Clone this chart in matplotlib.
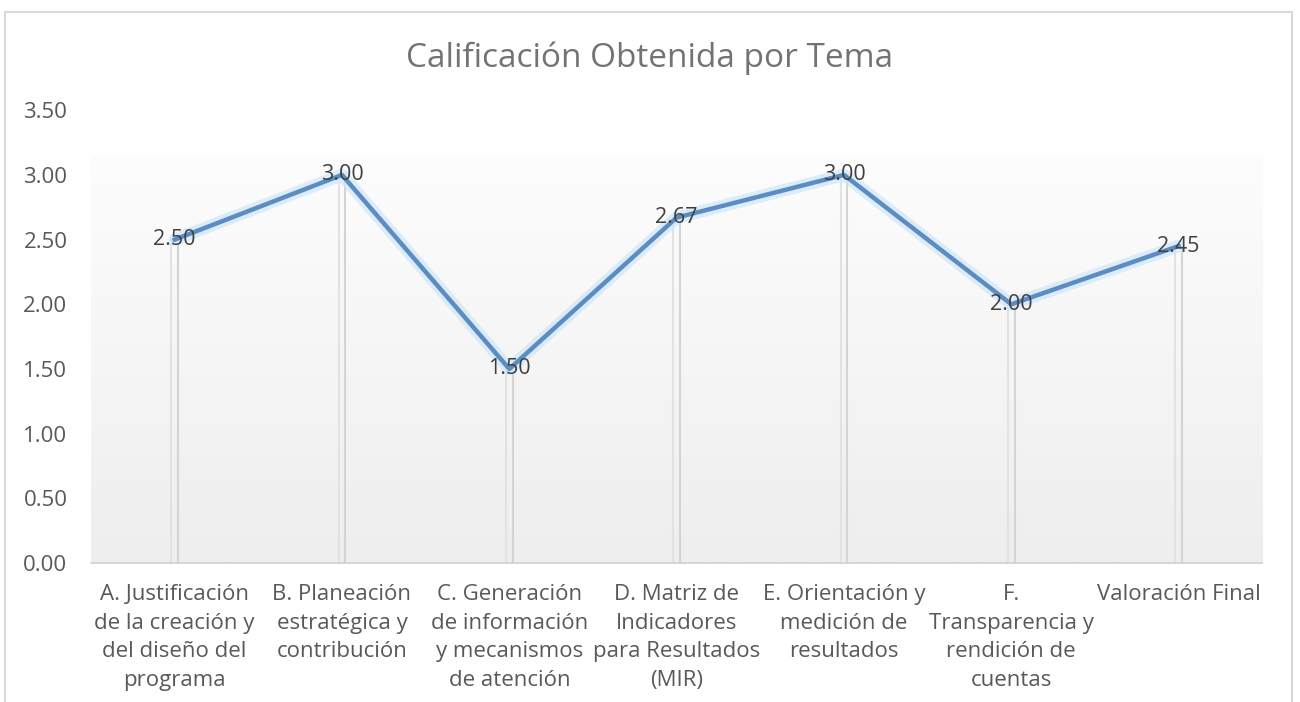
import numpy as np
import matplotlib.pyplot as plt
from matplotlib.colors import LinearSegmentedColormap

categorias = [
    "A. Justificación\nde la creación y\ndel diseño del\nprograma",
    "B. Planeación\nestratégica y\ncontribución",
    "C. Generación\nde información\ny mecanismos\nde atención",
    "D. Matriz de\nIndicadores\npara Resultados\n(MIR)",
    "E. Orientación y\nmedición de\nresultados",
    "F.\nTransparencia y\nrendición de\ncuentas",
    "Valoración Final",
]
calificacion = [2.50, 3.00, 1.50, 2.67, 3.00, 2.00, 2.45]
yticks = [0.0, 0.5, 1.0, 1.5, 2.0, 2.5, 3.0, 3.5]

plt.rcParams['font.family'] = ['Open Sans', 'DejaVu Sans']
gris = '#595959'

fig = plt.figure(figsize=(13, 7.02), dpi=100)
ax = fig.add_axes([0.07, 0.198, 0.901, 0.645])
x = np.arange(len(categorias))

# fondo degradado del área de trazado
grad = np.linspace(0, 1, 256).reshape(-1, 1)
cmap = LinearSegmentedColormap.from_list('g', ['#eeeeee', '#fdfdfd'])
ax.imshow(grad, cmap=cmap, aspect='auto', origin='lower',
          extent=(-0.5, len(x) - 0.5, 0, 3.15), zorder=0)

# líneas de proyección
for xi, v in zip(x, calificacion):
    ax.plot([xi - 0.02, xi - 0.02], [0, v], color='#e2e2e2', lw=1.5, zorder=1)
    ax.plot([xi + 0.02, xi + 0.02], [0, v], color='#d4d4d4', lw=1.5, zorder=1)

# serie con brillo
ax.plot(x, calificacion, color='#cfe6f8', lw=9, alpha=0.7, zorder=2,
        solid_capstyle='round')
ax.plot(x, calificacion, color='#5b8cc2', lw=3.2, zorder=3,
        solid_joinstyle='round')

for xi, v in zip(x, calificacion):
    ax.text(xi, v, f"{v:.2f}", ha='center', va='center', fontsize=15.5,
            color='#404040', zorder=4)

ax.set_xlim(-0.5, len(x) - 0.5)
ax.set_ylim(0, 3.5)
ax.set_yticks(yticks)
ax.set_yticklabels([f"{t:.2f}" for t in yticks])
ax.set_xticks(x)
ax.set_xticklabels(categorias, linespacing=1.48)
ax.tick_params(axis='y', length=0, pad=17, labelsize=16, labelcolor=gris)
ax.tick_params(axis='x', length=0, pad=15, labelsize=16, labelcolor=gris)
for s in ['top', 'right', 'left']:
    ax.spines[s].set_visible(False)
ax.spines['bottom'].set_color('#d0d0d0')
ax.spines['bottom'].set_linewidth(1.2)
ax.set_facecolor('white')

fig.text(0.5, 0.917, "Calificación Obtenida por Tema", ha='center',
         va='center', fontsize=24, color='#737373')

# marco del gráfico
fig.patches.append(plt.Rectangle((0.004, -0.05), 0.99, 1.033,
                                 transform=fig.transFigure, fill=False,
                                 edgecolor='#d9d9d9', lw=1.5))

fig.savefig('out.png', dpi=100)
